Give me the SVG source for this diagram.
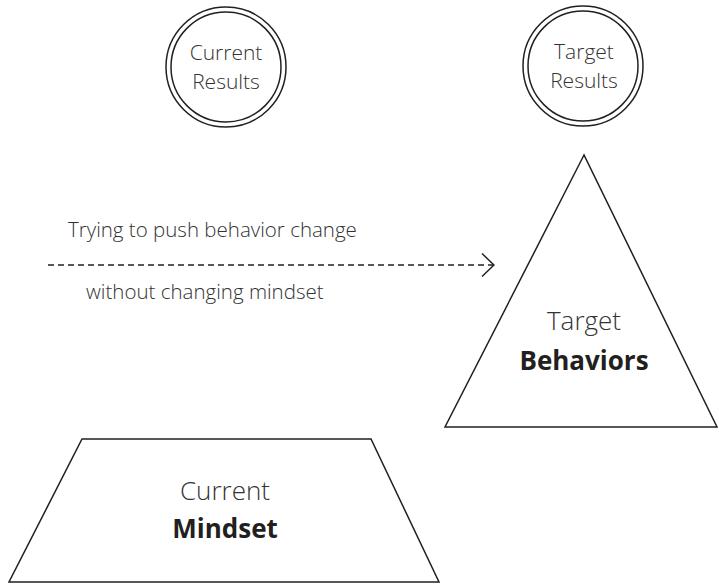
<svg xmlns="http://www.w3.org/2000/svg" width="719" height="584" viewBox="0 0 719 584">
<defs>
<style>
.shape{fill:none;stroke:#231f20;stroke-width:1.5}
.t{font-family:"Open Sans","Liberation Sans",sans-serif;fill:#333;font-weight:300;text-anchor:middle}
.lbl{font-size:20.5px;text-anchor:start}
.circ{font-size:21px}
.big{font-size:26px}
.bold{font-weight:700;fill:#231f20}
.conn{fill:none;stroke:#231f20;stroke-width:1.5}
</style>
<marker id="chev" viewBox="0 0 14 26" refX="13" refY="13" markerWidth="14" markerHeight="26" markerUnits="userSpaceOnUse" orient="auto">
<path d="M1,1.5 L13,13 L1,24.5" fill="none" stroke="#231f20" stroke-width="1.5"/>
</marker>
</defs>
<rect width="719" height="584" fill="#fff"/>
<g id="current-results">
<circle class="shape" cx="226" cy="67" r="60"/>
<circle class="shape" cx="226" cy="67" r="55"/>
<text class="t circ" x="226" y="60">Current<tspan x="226" y="89">Results</tspan></text>
</g>
<g id="target-results">
<circle class="shape" cx="583" cy="66" r="60"/>
<circle class="shape" cx="583" cy="66" r="55"/>
<text class="t circ" x="584" y="59">Target<tspan x="584" y="88">Results</tspan></text>
</g>
<g id="target-behaviors">
<polygon class="shape" points="584,155 445,427 717,427"/>
<text class="t big" x="584" y="330">Target<tspan class="bold" x="584" y="370">Behaviors</tspan></text>
</g>
<g id="current-mindset">
<polygon class="shape" points="82,439 371,439 439,582 9,582"/>
<text class="t big" x="225" y="500">Current<tspan class="bold" x="225" y="538">Mindset</tspan></text>
</g>
<g id="connectors">
<line class="conn" x1="48" y1="265" x2="494" y2="265" stroke-dasharray="6,4" marker-end="url(#chev)"/>
<text class="t lbl" x="68" y="237">Trying to push behavior change</text>
<text class="t lbl" x="86" y="299">without changing mindset</text>
</g>
</svg>
